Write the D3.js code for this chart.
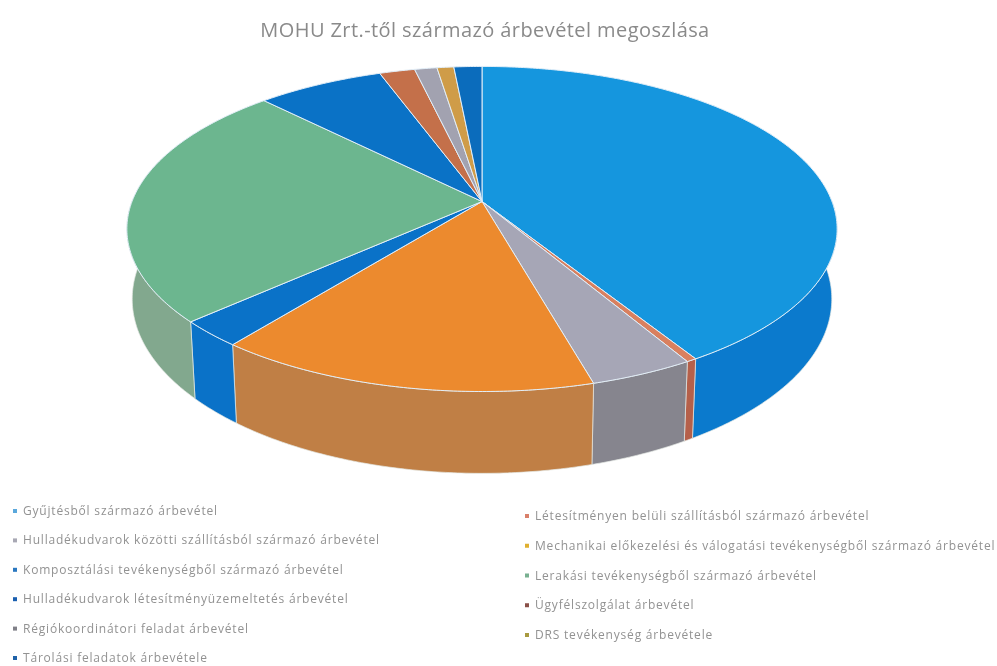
<!DOCTYPE html>
<html>
<head>
<meta charset="utf-8">
<script src="https://cdn.jsdelivr.net/npm/d3@7"></script>
<style>
html, body { margin: 0; padding: 0; background: #fff; }
svg { display: block; }
text { font-family: "Open Sans", sans-serif; }
</style>
</head>
<body>
<svg width="997" height="666"></svg>
<script>
var categories = [
    "Gyűjtésből származó árbevétel",
    "Létesítményen belüli szállításból származó árbevétel",
    "Hulladékudvarok közötti szállításból származó árbevétel",
    "Mechanikai előkezelési és válogatási tevékenységből származó árbevétel",
    "Komposztálási tevékenységből származó árbevétel",
    "Lerakási tevékenységből származó árbevétel",
    "Hulladékudvarok létesítményüzemeltetés árbevétel",
    "Ügyfélszolgálat árbevétel",
    "Régiókoordinátori feladat árbevétel",
    "DRS tevékenység árbevétele",
    "Tárolási feladatok árbevétele"
];
var values = [41.25, 0.4, 4.05, 14.9, 2.6, 24.5, 6.8, 1.9, 1.2, 0.9, 1.5];
var topColors = ["#1596de", "#d9805f", "#a6a6b6", "#ec8a2e", "#0a72c8", "#6cb68f", "#0a72c6", "#c4704a", "#a2a2b0", "#cf9c48", "#0b6cbc"];
var sideColors = ["#0b7acd", "#b5604a", "#86858e", "#c07f45", "#0a72c8", "#82a88e", "#0a72c6", "#a85c3e", "#85858f", "#a88440", "#0b6cbc"];
var legendMarkers = ["#5aa8dc", "#d9806a", "#a8a8b4", "#e0b030", "#2a78c0", "#78b090", "#1a5fb0", "#8a5048", "#808088", "#a89a40", "#1f62a8"];

var svg = d3.select("svg");

svg.append("defs").append("filter")
    .attr("id", "soft")
  .append("feGaussianBlur")
    .attr("stdDeviation", 0.35);

// perspective pie: apex and rim are projected from a unit circle
var cx = 482, cy = 201.5,
    rx = 350, ry = 157.9,
    tilt = 0.169,
    depth = 68,
    shrink = 0.985;

function project(angle, r, low) {
    var u = r * Math.sin(angle),
        v = -r * Math.cos(angle),
        w = 1 - tilt * v;
    return low
        ? [cx + shrink * rx * u / w, cy + (ry * v + depth) / w]
        : [cx + rx * u / w, cy + ry * v / w];
}

var pie = d3.pie().sort(null).value(function(d) { return d; });
var slices = pie(values);
var line = d3.line();

function rim(a0, a1, low) {
    var n = Math.max(2, Math.ceil((a1 - a0) / 0.01)), pts = [];
    d3.range(n + 1).forEach(function(i) {
        pts.push(project(a0 + (a1 - a0) * i / n, 1, low));
    });
    return pts;
}

var sideFrom = Math.PI * 0.5, sideTo = Math.PI * 1.5;

// side wall first, the top face covers what is left over
svg.append("g").selectAll("path")
    .data(slices.filter(function(d) { return d.endAngle > sideFrom && d.startAngle < sideTo; }))
    .join("path")
    .attr("d", function(d) {
        var a0 = Math.max(d.startAngle, sideFrom), a1 = Math.min(d.endAngle, sideTo);
        return line(rim(a0, a1, false).concat(rim(a0, a1, true).reverse())) + "Z";
    })
    .attr("fill", function(d) { return sideColors[d.index]; })
    .attr("stroke", "#e4e8e4")
    .attr("stroke-width", 0.7);

svg.append("g").selectAll("path")
    .data(slices)
    .join("path")
    .attr("d", function(d) {
        return line([project(0, 0, false)].concat(rim(d.startAngle, d.endAngle, false))) + "Z";
    })
    .attr("fill", function(d) { return topColors[d.index]; })
    .attr("stroke", "#e2eef8")
    .attr("stroke-width", 1);

svg.append("text")
    .attr("x", 485)
    .attr("y", 37)
    .attr("text-anchor", "middle")
    .attr("font-size", 20)
    .attr("letter-spacing", 0.42)
    .attr("fill", "#8a8a8a")
    .attr("filter", "url(#soft)")
    .text("MOHU Zrt.-től származó árbevétel megoszlása");

// two column legend, filled across then down
var legendX = [d3.scaleOrdinal().range([15]), d3.scaleOrdinal().range([527])];
var rowY = [
    d3.scaleLinear().domain([0, 5]).range([511, 658]),
    d3.scaleLinear().domain([0, 4]).range([516, 635])
];

var legend = svg.append("g").selectAll("g")
    .data(categories)
    .join("g")
    .attr("transform", function(d, i) {
        var col = i % 2;
        return "translate(" + legendX[col](0) + "," + rowY[col](Math.floor(i / 2)) + ")";
    });

legend.append("rect")
    .attr("x", -2)
    .attr("y", -2)
    .attr("width", 4)
    .attr("height", 4)
    .attr("fill", function(d, i) { return legendMarkers[i]; });

legend.append("text")
    .attr("x", 8)
    .attr("y", 4)
    .attr("font-size", 12)
    .attr("letter-spacing", 0.8)
    .attr("fill", "#929292")
    .attr("filter", "url(#soft)")
    .text(function(d) { return d; });
</script>
</body>
</html>
